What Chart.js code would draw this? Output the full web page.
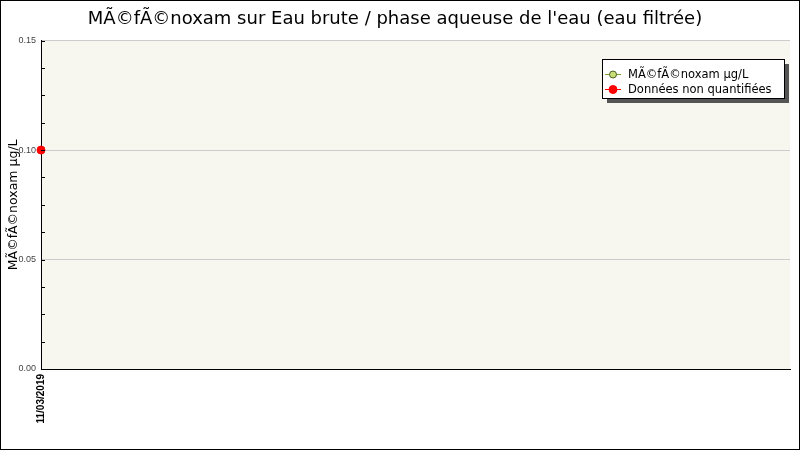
<!DOCTYPE html>
<html>
<head>
<meta charset="utf-8">
<title>MÃ©fÃ©noxam</title>
<script src="https://cdn.jsdelivr.net/npm/chart.js@4/dist/chart.umd.min.js"></script>
<style>
  body { margin: 0; background: #ffffff; }
  canvas { display: block; }
</style>
</head>
<body>
<canvas id="chart" width="800" height="450"></canvas>
<script>
// sampling dates and measured values
const dates = ['11/03/2019'];
const mefenoxamValues = [null];      // quantified values
const nonQuantifiedValues = [0.10];  // values below limit of quantification
const seriesNames = ['MÃ©fÃ©noxam µg/L', 'Données non quantifiées'];
const chartTitle = "MÃ©fÃ©noxam sur Eau brute / phase aqueuse de l'eau (eau filtrée)";
const yAxisTitle = 'MÃ©fÃ©noxam µg/L';

const isMajor = v => Math.abs(v / 0.05 - Math.round(v / 0.05)) < 1e-6;

// cream plot background, inner tick marks, legend box and outer frame
const decorations = {
    id: 'decorations',
    beforeDraw(chart) {
        const { ctx, chartArea: a } = chart;
        ctx.save();
        ctx.fillStyle = '#f7f7ef';
        ctx.fillRect(a.left, a.top, a.right - a.left, a.bottom - a.top);
        ctx.restore();
    },
    afterDatasetsDraw(chart) {
        const { ctx } = chart;
        const y = chart.scales.y;
        ctx.save();
        ctx.strokeStyle = '#000000';
        ctx.lineWidth = 1;
        y.ticks.forEach(t => {
            const py = Math.round(y.getPixelForValue(t.value)) + 0.5;
            ctx.beginPath();
            ctx.moveTo(y.right, py);
            ctx.lineTo(y.right + 4, py);
            ctx.stroke();
        });
        ctx.restore();
    },
    afterDraw(chart) {
        const { ctx } = chart;
        ctx.save();
        // legend
        const lx = 602, ly = 59, lw = 182, lh = 39;
        ctx.fillStyle = '#555555';
        ctx.fillRect(lx + 5, ly + 5, lw, lh);
        ctx.fillStyle = '#ffffff';
        ctx.fillRect(lx, ly, lw, lh);
        ctx.strokeStyle = '#000000';
        ctx.lineWidth = 1;
        ctx.strokeRect(lx + 0.5, ly + 0.5, lw, lh);
        const items = chart.data.datasets;
        items.forEach((ds, i) => {
            const cy = ly + 15 + i * 15;
            ctx.strokeStyle = ds.borderColor;
            ctx.lineWidth = 1;
            ctx.beginPath();
            ctx.moveTo(605, cy + 0.5);
            ctx.lineTo(621, cy + 0.5);
            ctx.stroke();
            ctx.beginPath();
            ctx.arc(613, cy + 0.5, ds.pointRadius, 0, Math.PI * 2);
            ctx.fillStyle = ds.pointBackgroundColor;
            ctx.fill();
            ctx.strokeStyle = ds.pointBorderColor;
            ctx.stroke();
            ctx.fillStyle = '#000000';
            ctx.font = '11.5px "DejaVu Sans"';
            ctx.textBaseline = 'middle';
            ctx.textAlign = 'left';
            ctx.fillText(ds.label, 628, cy + 1);
        });
        // outer frame
        ctx.strokeStyle = '#000000';
        ctx.strokeRect(0.5, 0.5, 799, 449);
        ctx.restore();
    }
};

new Chart(document.getElementById('chart').getContext('2d'), {
    type: 'line',
    data: {
        labels: dates,
        datasets: [{
            label: seriesNames[0],
            data: mefenoxamValues,
            borderColor: '#7aa032',
            backgroundColor: '#c8dc78',
            pointBackgroundColor: '#c8dc78',
            pointBorderColor: '#4a6020',
            pointRadius: 3.5,
            borderWidth: 1,
            clip: false
        }, {
            label: seriesNames[1],
            data: nonQuantifiedValues,
            borderColor: '#ff0000',
            backgroundColor: '#ff0000',
            pointBackgroundColor: '#ff0000',
            pointBorderColor: '#ff0000',
            pointRadius: 4,
            borderWidth: 1,
            showLine: false,
            clip: false
        }]
    },
    options: {
        responsive: false,
        devicePixelRatio: 1,
        animation: false,
        layout: { padding: { left: 0, right: 10, top: 0, bottom: 0 } },
        plugins: {
            legend: { display: false },
            tooltip: { enabled: false },
            title: {
                display: true,
                text: chartTitle,
                color: '#000000',
                font: { family: 'DejaVu Sans', size: 18, weight: 'normal' },
                padding: { top: 9, bottom: 10 }
            }
        },
        scales: {
            x: {
                type: 'category',
                offset: false,
                grid: { display: false, drawTicks: false },
                border: { color: '#000000', width: 1 },
                ticks: {
                    minRotation: 90,
                    maxRotation: 90,
                    padding: 5,
                    color: '#000000',
                    font: { family: 'Liberation Sans', size: 10, weight: 'bold' }
                },
                afterFit: scale => { scale.height = 81; }
            },
            y: {
                min: 0,
                max: 0.15,
                grid: {
                    drawTicks: false,
                    color: ctx => (ctx.tick && isMajor(ctx.tick.value)) ? '#cccccc' : 'rgba(0,0,0,0)'
                },
                border: { color: '#000000', width: 1 },
                ticks: {
                    stepSize: 0.0125,
                    padding: 5,
                    color: '#444444',
                    font: { family: 'Liberation Sans', size: 9 },
                    callback: v => isMajor(v) ? v.toFixed(2) : ''
                },
                title: {
                    display: true,
                    text: yAxisTitle,
                    color: '#000000',
                    font: { family: 'DejaVu Sans', size: 12.5 },
                    padding: { top: 6, bottom: 0 }
                },
                afterFit: scale => { scale.width = 41; }
            }
        }
    },
    plugins: [decorations]
});
</script>
</body>
</html>
